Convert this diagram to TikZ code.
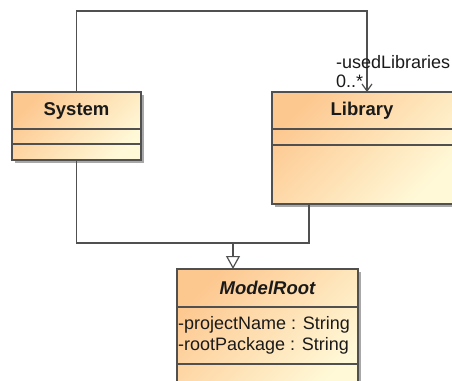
\documentclass[tikz,border=0pt]{standalone}
\usepackage{fontspec}
\setmainfont{Liberation Sans}
\usetikzlibrary{arrows.meta,shadows,calc}
\definecolor{umlA}{HTML}{FDC890}
\definecolor{umlB}{HTML}{FFF9D8}
\definecolor{umlLine}{HTML}{505050}
\definecolor{umlText}{HTML}{1A1A1A}
\definecolor{umlShadow}{HTML}{A8A8A8}

\begin{document}
\begin{tikzpicture}[x=1pt,y=-1pt,
  classbox/.style={draw=umlLine, line width=1.4pt, left color=umlA, right color=umlB,
    shading angle=45,
    drop shadow={shadow xshift=3pt, shadow yshift=-3pt, fill=umlShadow, opacity=1},
    anchor=north west, inner sep=0pt, outer sep=0pt},
  divider/.style={draw=umlLine, line width=1.4pt},
  title/.style={font=\fontsize{18.5}{21}\selectfont\bfseries, text=umlText, inner sep=0pt},
  attr/.style={font=\fontsize{18}{21}\selectfont, text=umlText, inner sep=0pt, align=left, anchor=west},
  lbl/.style={font=\fontsize{18}{21}\selectfont, text=umlText, inner sep=0pt, anchor=west},
  conn/.style={draw=umlLine, line width=1.4pt},
]
\useasboundingbox[fill=white] (0,0) rectangle (452,380);

% class System
\node[classbox, minimum width=129pt, minimum height=68pt] (sys) at (12,92) {};
\draw[divider] ([yshift=-37pt]sys.north west) -- ([yshift=-37pt]sys.north east);
\draw[divider] ([yshift=-52pt]sys.north west) -- ([yshift=-52pt]sys.north east);
\node[title] (systitle) at ($(sys.north)+(0,18.5)$) {System};

% class Library
\node[classbox, minimum width=182pt, minimum height=112pt] (lib) at (272,92) {};
\draw[divider] ([yshift=-37pt]lib.north west) -- ([yshift=-37pt]lib.north east);
\draw[divider] ([yshift=-53pt]lib.north west) -- ([yshift=-53pt]lib.north east);
\node[title] (libtitle) at ($(lib.north)+(-1,18.5)$) {Library};

% abstract class ModelRoot
\node[classbox, minimum width=181pt, minimum height=125pt] (mr) at (177,269) {};
\draw[divider] ([yshift=-38pt]mr.north west) -- ([yshift=-38pt]mr.north east);
\draw[divider] ([yshift=-95pt]mr.north west) -- ([yshift=-95pt]mr.north east);
\node[title, font=\fontsize{18.5}{21}\selectfont\bfseries\itshape] (mrtitle) at ($(mr.north)+(0,19)$) {ModelRoot};
\node[attr] (mrattr) at ($(mr.north west)+(1,66)$) {-projectName : String\\-rootPackage : String};

% association System -> Library
\coordinate (topy) at (0,11);
\draw[conn, -{Straight Barb[length=7pt, width=10pt, line width=1.2pt]}]
  (sys.north) -- (sys.north |- topy) -| ([xshift=4pt]lib.north);
\node[lbl] (role) at (336,62) {-usedLibraries};
\node[lbl] (mult) at (336,81) {0..*};

% generalization to ModelRoot
\coordinate (joint) at (233,243);
\draw[conn] (sys.south) |- (joint) -| ([xshift=-54pt]lib.south);
\draw[conn, -{Triangle[open, length=13pt, width=14pt, fill=white, line width=1.2pt]}]
  (joint) -- (joint |- mr.north);
\end{tikzpicture}
\end{document}
